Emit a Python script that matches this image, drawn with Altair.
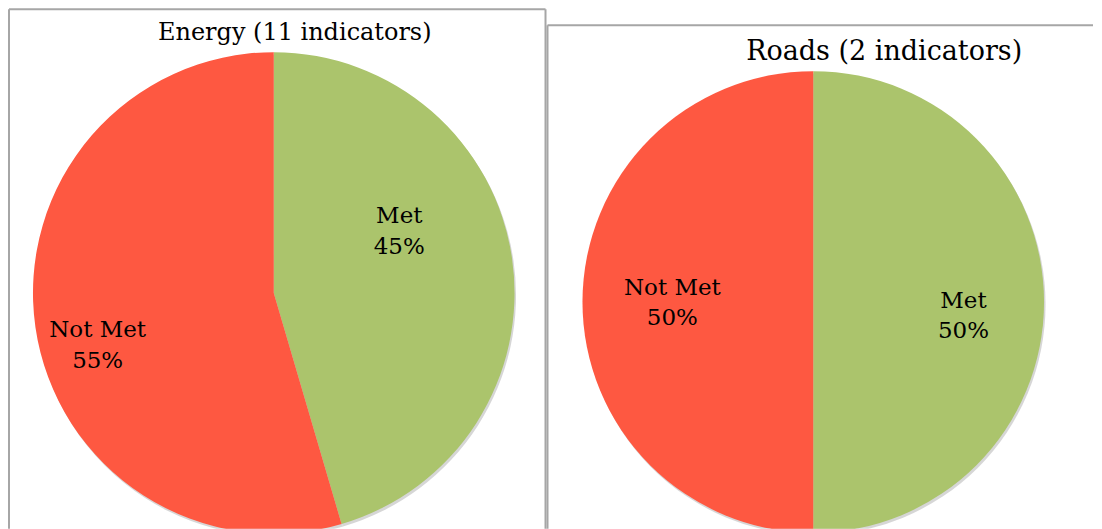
import altair as alt
import pandas as pd

categories = ["Met", "Not Met"]
energy_values = [5, 6]
energy_pct = ["45%", "55%"]
roads_values = [1, 1]
roads_pct = ["50%", "50%"]
titles = ["Energy (11 indicators)", "Roads (2 indicators)"]

GREEN = "#ABC46C"
RED = "#FE5841"
BORDER = "#A6A6A6"
FONT = "DejaVu Serif"


def panel(values, pcts, title, w, h, cx, cy, r, tx, ty, tsize, label_pos, left_rule, top_rule, right_rule):
    df = pd.DataFrame({"cat": categories, "value": values, "pct": pcts})
    df["label"] = df["cat"] + "\n" + df["pct"]
    base = alt.Chart(df)
    color = alt.Color("cat:N", scale=alt.Scale(domain=categories, range=[GREEN, RED]), legend=None)
    shadow = base.mark_arc(color="#BBBBBB", opacity=0.6, clip=True).encode(
        theta=alt.Theta("value:Q", stack=True),
        x=alt.value(cx + 1.5), y=alt.value(cy + 2.5), radius=alt.value(r),
    )
    arcs = base.mark_arc(strokeWidth=0, clip=True).encode(
        theta=alt.Theta("value:Q", stack=True),
        color=color,
        order=alt.Order("cat:N"),
        x=alt.value(cx), y=alt.value(cy), radius=alt.value(r),
    )
    layers = [shadow, arcs]
    for cat, (th, rr) in zip(categories, label_pos):
        layers.append(
            base.transform_filter(alt.datum.cat == cat)
            .mark_text(font=FONT, fontSize=23, lineBreak="\n", lineHeight=31, dy=-15.5,
                       align="center", baseline="middle", color="black")
            .encode(text="label:N", theta=alt.value(th), radius=alt.value(rr),
                    x=alt.value(cx), y=alt.value(cy))
        )
    tdf = pd.DataFrame({"t": [title]})
    layers.append(
        alt.Chart(tdf).mark_text(font=FONT, fontSize=tsize, align="center", baseline="middle", color="black")
        .encode(text="t:N", x=alt.value(tx), y=alt.value(ty))
    )
    rule_kw = dict(color=BORDER, strokeWidth=2)
    rdf = pd.DataFrame({"k": [0]})
    layers.append(alt.Chart(rdf).mark_rule(**rule_kw).encode(
        x=alt.value(left_rule), y=alt.value(top_rule), y2=alt.value(h)))
    if right_rule is not None:
        layers.append(alt.Chart(rdf).mark_rule(**rule_kw).encode(
            x=alt.value(right_rule), y=alt.value(top_rule), y2=alt.value(h)))
        x_end = right_rule
    else:
        x_end = w
    layers.append(alt.Chart(rdf).mark_rule(**rule_kw).encode(
        x=alt.value(left_rule), x2=alt.value(x_end), y=alt.value(top_rule)))
    return alt.layer(*layers).properties(width=w, height=h)


H = 521
left = panel(energy_values, energy_pct, titles[0], 539, H, 266, 285, 241, 287, 25, 24,
             [(1.114, 140), (4.421, 184)], 1, 1, 538)
right = panel(roads_values, roads_pct, titles[1], 547, H, 267, 294, 231, 338, 44, 27,
              [(1.664, 151), (4.705, 141)], 1, 17, None)

chart = alt.hconcat(left, right, spacing=0).properties(padding=0).configure_view(stroke=None)
chart.save("out.html", embed_options={"renderer": "svg", "actions": False})
